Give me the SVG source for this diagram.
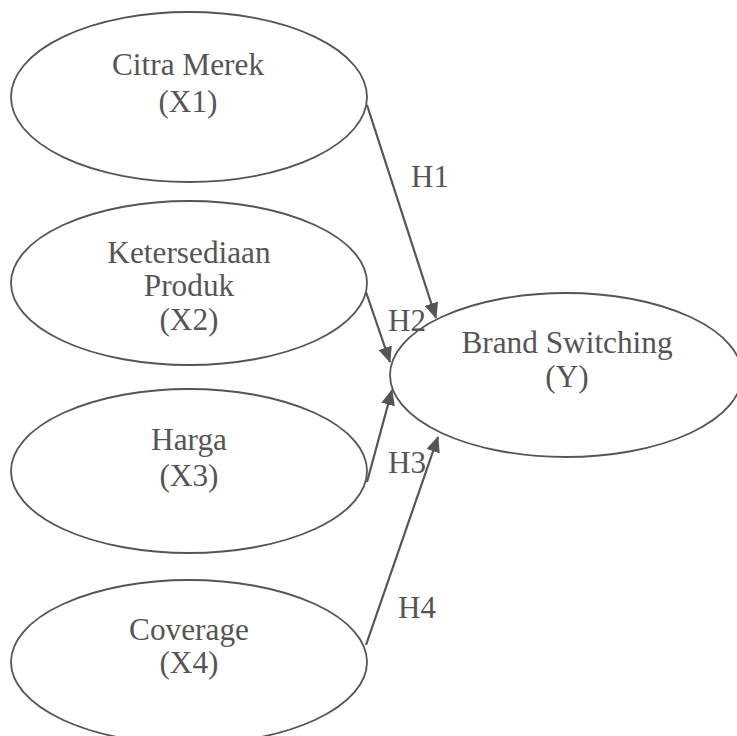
<svg xmlns="http://www.w3.org/2000/svg" width="737" height="736" viewBox="0 0 737 736">
<style>
.node ellipse{fill:#fff;stroke:#555;stroke-width:1.8}
.lbl{font-family:"Liberation Serif","Times New Roman",serif;font-size:31.3px;fill:#555;text-anchor:middle}
.h{font-family:"Liberation Serif","Times New Roman",serif;font-size:31px;fill:#555}
.edge{stroke:#555;stroke-width:2.2;fill:none;marker-end:url(#ah)}
</style>
<defs>
<marker id="ah" markerUnits="userSpaceOnUse" markerWidth="16" markerHeight="14" viewBox="0 0 16 14" refX="15" refY="7" orient="auto">
<path d="M0,0 L16,7 L0,14 Z" fill="#555"/>
</marker>
</defs>
<rect width="737" height="736" fill="#fff"/>
<g id="n-x1" class="node">
<ellipse cx="189" cy="97" rx="178" ry="85"/>
<text class="lbl" x="188" y="75">Citra Merek</text>
<text class="lbl" x="188" y="112">(X1)</text>
</g>
<g id="n-x2" class="node">
<ellipse cx="189" cy="283" rx="178" ry="82"/>
<text class="lbl" x="189" y="263">Ketersediaan</text>
<text class="lbl" x="189" y="296">Produk</text>
<text class="lbl" x="189" y="330">(X2)</text>
</g>
<g id="n-x3" class="node">
<ellipse cx="189" cy="471" rx="178" ry="82"/>
<text class="lbl" x="189" y="450">Harga</text>
<text class="lbl" x="189" y="486">(X3)</text>
</g>
<g id="n-x4" class="node">
<ellipse cx="189" cy="662" rx="178" ry="82"/>
<text class="lbl" x="189" y="640">Coverage</text>
<text class="lbl" x="189" y="673">(X4)</text>
</g>
<g id="n-y" class="node">
<ellipse cx="566" cy="375" rx="176" ry="82"/>
<text class="lbl" x="567" y="353">Brand Switching</text>
<text class="lbl" x="567" y="387">(Y)</text>
</g>
<g id="connectors">
<line class="edge" x1="367" y1="105" x2="436" y2="318"/>
<line class="edge" x1="366" y1="292" x2="390" y2="362"/>
<line class="edge" x1="367" y1="482" x2="392" y2="390"/>
<line class="edge" x1="366" y1="645" x2="438" y2="437"/>
<text class="h" x="411" y="187">H1</text>
<text class="h" x="388" y="331">H2</text>
<text class="h" x="388" y="473">H3</text>
<text class="h" x="398" y="618">H4</text>
</g>
</svg>
